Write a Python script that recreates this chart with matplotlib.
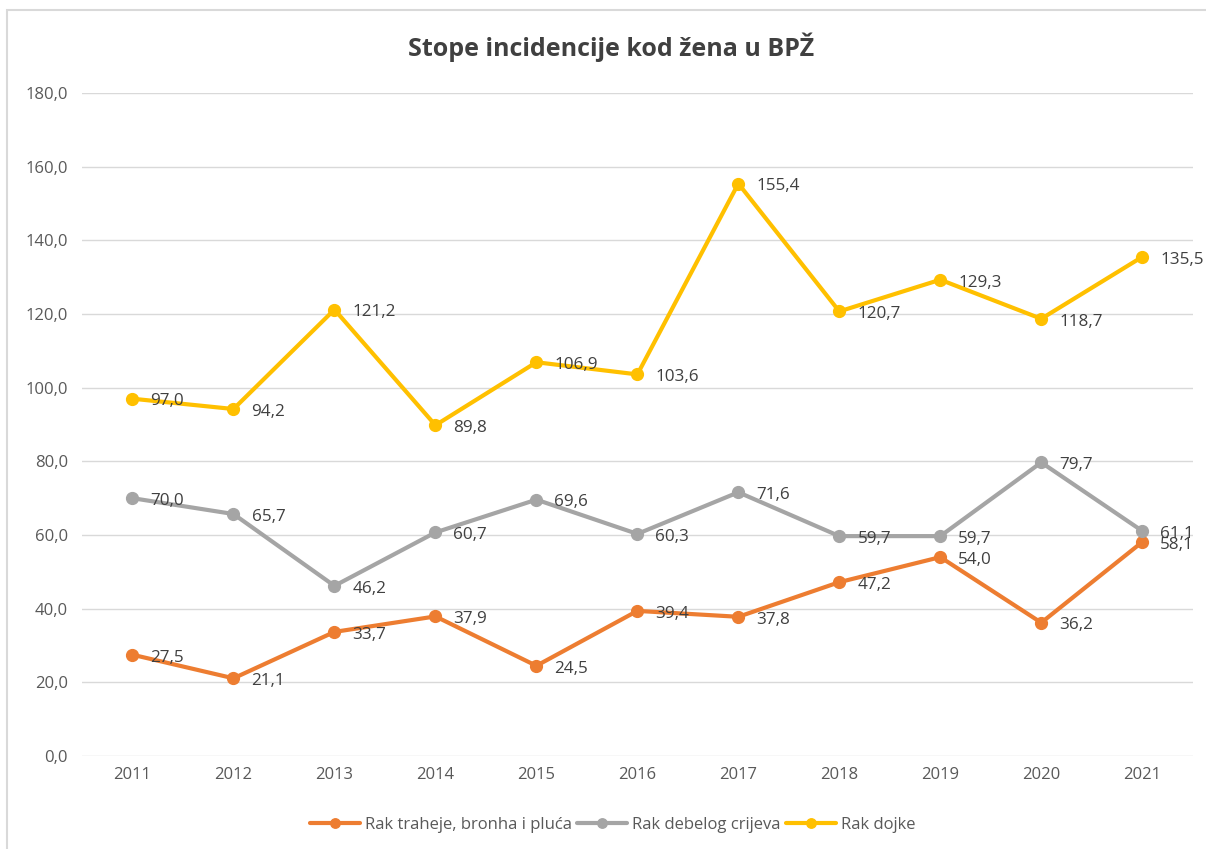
import matplotlib
matplotlib.use("Agg")
import matplotlib.pyplot as plt
from matplotlib.patches import Rectangle

plt.rcParams['font.family'] = ['Open Sans', 'DejaVu Sans']

# podaci
godine = ['2011', '2012', '2013', '2014', '2015', '2016', '2017', '2018', '2019', '2020', '2021']
rak_pluca = [27.5, 21.1, 33.7, 37.9, 24.5, 39.4, 37.8, 47.2, 54.0, 36.2, 58.1]
rak_crijeva = [70.0, 65.7, 46.2, 60.7, 69.6, 60.3, 71.6, 59.7, 59.7, 79.7, 61.1]
rak_dojke = [97.0, 94.2, 121.2, 89.8, 106.9, 103.6, 155.4, 120.7, 129.3, 118.7, 135.5]
nazivi = ['Rak traheje, bronha i pluća', 'Rak debelog crijeva', 'Rak dojke']
boje = ['#ED7D31', '#A5A5A5', '#FFC000']
y_ticks = [0, 20, 40, 60, 80, 100, 120, 140, 160, 180]

fig = plt.figure(figsize=(12.06, 8.49), dpi=100)
ax = fig.add_axes([0.068, 0.1095, 0.921, 0.781])

# okvir grafikona
fig.patches.append(Rectangle((7 / 1206, -0.01), 1.02, 1 - 10 / 849 + 0.01,
                             transform=fig.transFigure, fill=False,
                             edgecolor='#D9D9D9', linewidth=1.5))

x = list(range(len(godine)))
for serija, naziv, boja in zip([rak_pluca, rak_crijeva, rak_dojke], nazivi, boje):
    ax.plot(x, serija, color=boja, linewidth=3, marker='o', markersize=8.5,
            label=naziv, solid_capstyle='round', zorder=3)
    for xi, yi in zip(x, serija):
        ax.annotate(f"{yi:.1f}".replace('.', ','), (xi, yi), xytext=(13, -2),
                    textcoords='offset points', ha='left', va='center',
                    fontsize=12.3, color='#404040', zorder=4)

ax.set_xlim(-0.5, len(godine) - 0.5)
ax.set_ylim(0, 180)
ax.set_yticks(y_ticks)
ax.set_yticklabels([f"{v:.1f}".replace('.', ',') for v in y_ticks])
ax.set_xticks(x)
ax.set_xticklabels(godine)
ax.tick_params(axis='both', length=0, labelsize=12, labelcolor='#595959')
ax.tick_params(axis='y', pad=10)
ax.tick_params(axis='x', pad=8)
ax.grid(axis='y', color='#D9D9D9', linewidth=1)
ax.set_axisbelow(True)
for s in ax.spines.values():
    s.set_visible(False)

fig.suptitle('Stope incidencije kod žena u BPŽ', x=0.507, y=0.962,
             fontsize=18, fontweight='bold', color='#404040')

fig.legend(loc='center', bbox_to_anchor=(0.508, 0.028), ncol=3, frameon=False,
           fontsize=12, labelcolor='#595959', handlelength=3,
           columnspacing=0.3, handletextpad=0.3, markerscale=0.8)

fig.savefig('out.png', dpi=100)
